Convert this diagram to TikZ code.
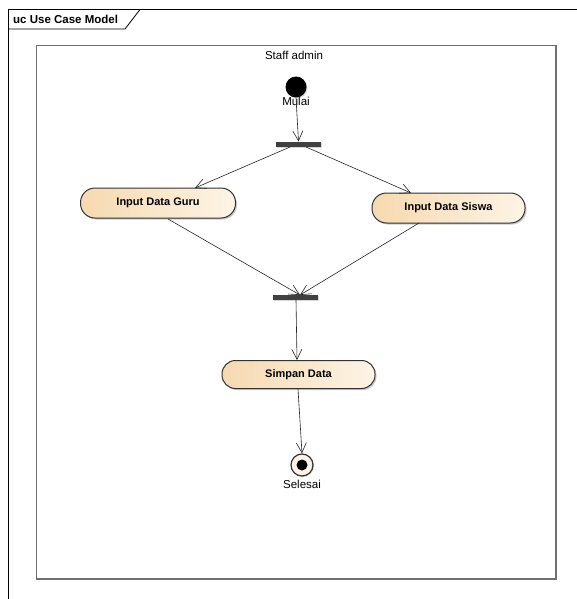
\documentclass[tikz,border=0pt]{standalone}
\usepackage{fontspec}
\setmainfont{Liberation Sans}
\usetikzlibrary{arrows.meta,shadows}
\definecolor{actL}{HTML}{F6D9B0}
\definecolor{actR}{HTML}{FDF4E6}
\definecolor{frameGray}{HTML}{707070}
\definecolor{barGray}{HTML}{404040}
\tikzset{
  every node/.style={font=\fontsize{11.5}{13}\selectfont},
  action/.style={draw=black!80, line width=1pt, rounded corners=14.5pt,
    left color=actL, right color=actR, minimum height=30pt,
    font=\bfseries\fontsize{11}{13}\selectfont,
    drop shadow={shadow xshift=1.5pt, shadow yshift=-1.5pt, fill=black!35, opacity=0.6}},
  syncbar/.style={fill=barGray, draw=none, minimum width=45pt, minimum height=5.5pt, inner sep=0pt,
    drop shadow={shadow xshift=1pt, shadow yshift=-1pt, fill=black!25, opacity=0.6}},
  flow/.style={draw=black!85, line width=0.6pt, -{Straight Barb[length=10pt, width=10pt, line width=0.6pt]}},
  lbl/.style={inner sep=0pt}
}
\begin{document}
\begin{tikzpicture}[x=1pt, y=-1pt]
\useasboundingbox (0,0) rectangle (577,599);
\fill[white] (0,0) rectangle (577,599);

% diagram frame with its name tab
\draw[line width=0.8pt] (577,9.5) -- (8.5,9.5) -- (8.5,599);
\draw[line width=0.8pt] (8.5,29) -- (125,29) -- (140,9.5);
\node[lbl, anchor=west, font=\bfseries\fontsize{11.5}{13}\selectfont] (title) at (13,19.5) {uc Use Case Model};

% partition of the actor
\draw[frameGray, line width=0.7pt] (36,45) rectangle (556,579);
\draw[frameGray, line width=1.4pt] (556,45.5) -- (556,579) -- (36.5,579);
\node[lbl] (lane) at (294,55) {Staff admin};

% start node
\node[circle, fill=black, minimum size=21pt, inner sep=0pt,
  drop shadow={shadow xshift=1pt, shadow yshift=-1pt, fill=black!25, opacity=0.6}] (start) at (296,87) {};
\node[lbl] (mulai) at (296,101) {Mulai};

% fork
\node[syncbar] (fork) at (298.5,144.5) {};

% actions
\node[action, minimum width=155pt] (guru) at (158,203) {Input Data Guru};
\node[action, minimum width=153pt] (siswa) at (448.5,208) {Input Data Siswa};

% join
\node[syncbar] (join) at (295,297.5) {};

\node[action, minimum width=153pt, minimum height=28pt, rounded corners=13.5pt] (simpan) at (298.5,374.5) {Simpan Data};

% final node
\node[circle, draw=black!80, line width=1.2pt, fill=actR, minimum size=22pt, inner sep=0pt,
  drop shadow={shadow xshift=1pt, shadow yshift=-1pt, fill=black!25, opacity=0.6}] (final) at (302,465) {};
\fill[black] (final.center) circle (5.5pt);
\node[lbl] (selesai) at (302,484) {Selesai};

% control flows
\coordinate (forkL) at (290,147);
\coordinate (forkR) at (306,147);
\coordinate (guruT) at (195,188);
\coordinate (siswaT) at (411,193);
\coordinate (guruB) at (168,219);
\coordinate (siswaB) at (419,223);
\coordinate (joinT) at (300,295);
\coordinate (joinB) at (296,300);
\coordinate (simpanT) at (297,360);
\coordinate (simpanB) at (298,389);

\draw[flow] (start.south) -- (fork.north);
\draw[flow] (forkL) -- (guruT);
\draw[flow] (forkR) -- (siswaT);
\draw[flow] (guruB) -- (joinT);
\draw[flow] (siswaB) -- (joinT);
\draw[flow] (joinB) -- (simpanT);
\draw[flow] (simpanB) -- (final.north);
\end{tikzpicture}
\end{document}
